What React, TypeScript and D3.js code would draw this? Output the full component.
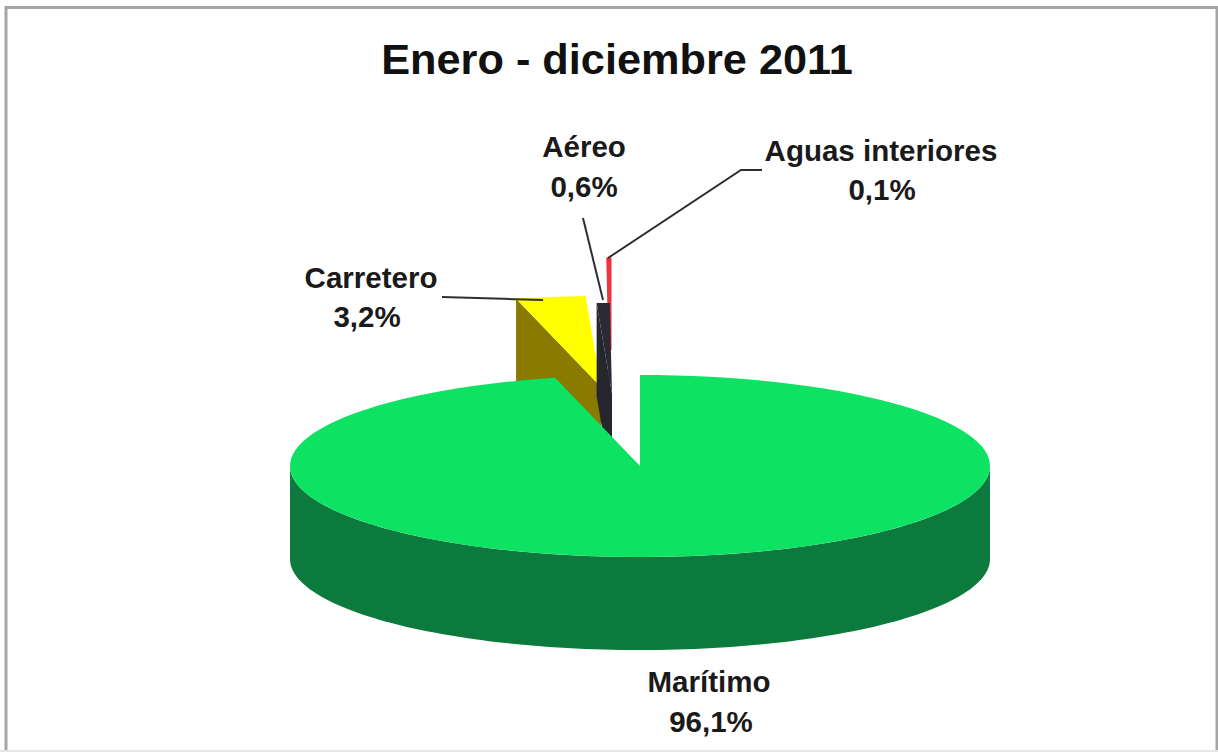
import React from "react";
import * as d3 from "d3";

const categories = ["Marítimo", "Carretero", "Aéreo", "Aguas interiores"];
const shares = [96.1, 3.2, 0.6, 0.1];
const shareLabels = ["96,1%", "3,2%", "0,6%", "0,1%"];
const titleText = "Enero - diciembre 2011";

const topColors = ["#0be264", "#ffff00", "#2a2a34", "#f0303a"];
const sideColors = ["#0b7a3c", "#8a7a00", "#26262e", "#8a1c20"];
const offsets = [[0, 0], [-39, -79], [-28, -72], [-30, -116]];
const drawOrder = [1, 3, 2, 0];

const cx = 640, cy = 466, rx = 350, ry = 91, depth = 93;
const px = d3.scaleLinear().domain([-1, 1]).range([cx - rx, cx + rx]);
const py = d3.scaleLinear().domain([-1, 1]).range([cy + ry, cy - ry]);

type Pt = [number, number];
const rim = (a: number, dx: number, dy: number, dz = 0): Pt => [px(Math.sin(a)) + dx, py(Math.cos(a)) + dy + dz];
const arcPts = (a0: number, a1: number, dx: number, dy: number, dz = 0): Pt[] =>
  d3.range(0, 121).map((i) => rim(a0 + ((a1 - a0) * i) / 120, dx, dy, dz));
const line = d3.line<Pt>();
const closed = (p: Pt[]) => line(p) + "Z";

const pieArcs = d3.pie<number>().sort(null)(shares);

const labels = [
  { i: 0, x1: 709, x2: 711, y1: 692, y2: 732 },
  { i: 1, x1: 371, x2: 367, y1: 288, y2: 327 },
  { i: 2, x1: 584, x2: 584, y1: 157, y2: 197 },
  { i: 3, x1: 881, x2: 882, y1: 161, y2: 200 },
];
const leaders: Pt[][] = [
  [[442, 297], [543, 300]],
  [[583, 218], [603, 300]],
  [[762, 170], [741, 170], [608, 258]],
];

export default function App() {
  const font = "'Liberation Sans', Arial, sans-serif";
  return (
    <svg width={1218} height={752} viewBox="0 0 1218 752"
      style={{ position: "absolute", left: 0, top: 0, background: "#fff" }}>
      <defs>
        <filter id="soft" x="-2%" y="-2%" width="104%" height="104%">
          <feGaussianBlur stdDeviation="0.6" />
        </filter>
      </defs>
      <g filter="url(#soft)">
        <path d="M6,752 V7.5 H1217 V752" fill="none" stroke="#a6a6a6" strokeWidth={3} />
        <line x1={0} x2={1218} y1={751} y2={751} stroke="#e6e6e6" strokeWidth={2} />
        {drawOrder.map((i) => {
          const a = pieArcs[i];
          const [dx, dy] = offsets[i];
          const a0 = a.startAngle, a1 = a.endAngle;
          const apex: Pt = [cx + dx, cy + dy];
          const top = [apex, ...arcPts(a0, a1, dx, dy)];
          if (i === 0) {
            const front = [...arcPts(Math.PI / 2, (3 * Math.PI) / 2, 0, 0), ...arcPts((3 * Math.PI) / 2, Math.PI / 2, 0, 0, depth)];
            return (
              <g key={i}>
                <path d={closed(front)} fill={sideColors[i]} />
                <path d={closed(top)} fill={topColors[i]} />
              </g>
            );
          }
          const face: Pt[] = [rim(a0, dx, dy), apex, [apex[0], apex[1] + depth], rim(a0, dx, dy, depth)];
          const thin = i === 3 ? 3 : 0;
          return (
            <g key={i}>
              <path d={closed(face)} fill={sideColors[i]} />
              <path d={closed(top)} fill={topColors[i]} stroke={topColors[i]} strokeWidth={thin} />
            </g>
          );
        })}
        {leaders.map((l, i) => (
          <path key={i} d={line(l)!} fill="none" stroke="#2e2e2e" strokeWidth={2} />
        ))}
      </g>
      <text x={617} y={74} textAnchor="middle" fontFamily={font} fontWeight={700} fontSize={43.3} fill="#111">
        {titleText}
      </text>
      {labels.map((l) => (
        <g key={l.i} fontFamily={font} fontWeight={700} fontSize={29.5} fill="#1a1a1a" textAnchor="middle">
          <text x={l.x1} y={l.y1}>{categories[l.i]}</text>
          <text x={l.x2} y={l.y2}>{shareLabels[l.i]}</text>
        </g>
      ))}
    </svg>
  );
}
